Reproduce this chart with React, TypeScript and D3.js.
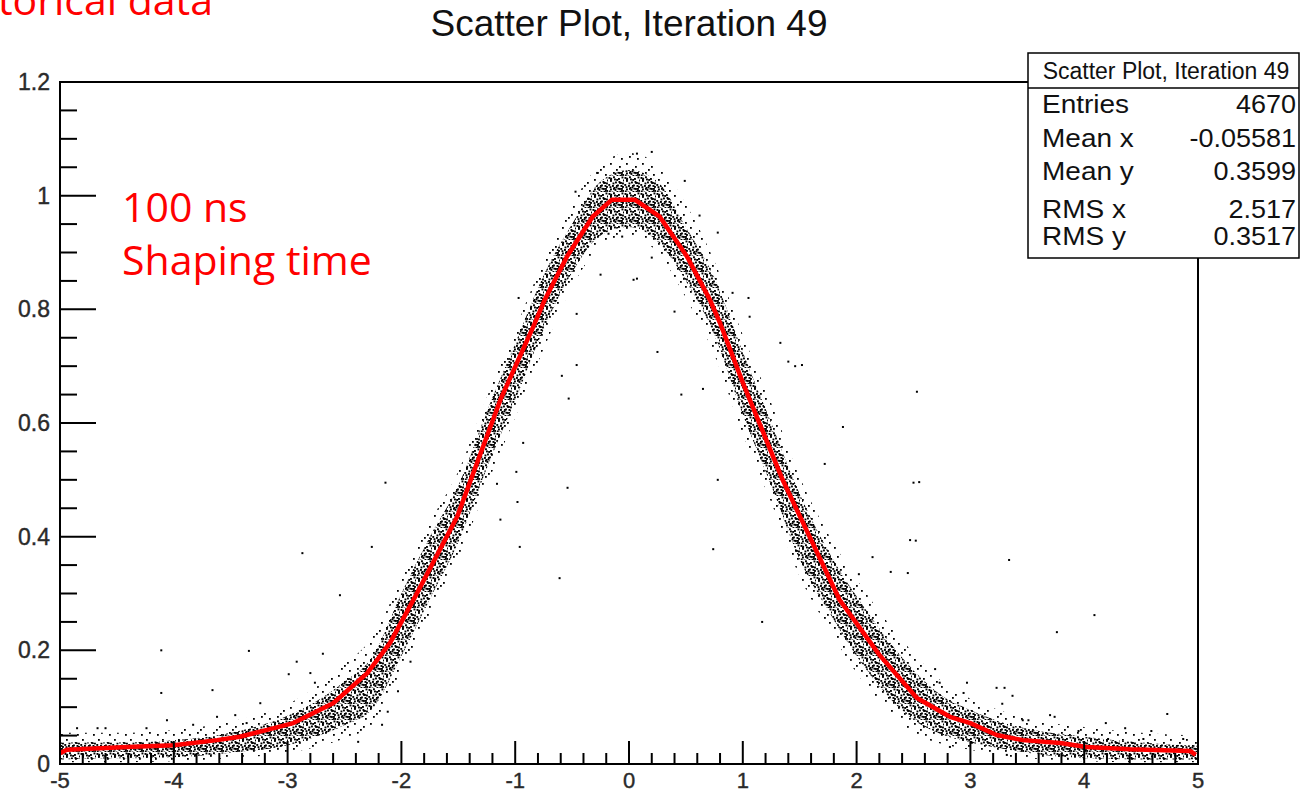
import React from "react";
import * as d3 from "d3";

// ---- fitted curve ----
const curveX = [-5, -4.94, -4.41, -4.0, -3.62, -3.42, -3.18, -2.95, -2.6, -2.3, -2.1, -1.88, -1.51, -1.13, -0.84, -0.74, -0.545, -0.32, -0.15, 0.05, 0.27, 0.51, 0.71, 0.8, 1.0, 1.35, 1.85, 2.2, 2.53, 2.82, 3.0, 3.23, 3.46, 3.79, 4.02, 4.4, 4.93, 4.98];
const curveY = [0.019, 0.025, 0.03, 0.033, 0.042, 0.048, 0.06, 0.072, 0.107, 0.16, 0.213, 0.294, 0.435, 0.641, 0.77, 0.817, 0.893, 0.963, 0.993, 0.993, 0.963, 0.893, 0.817, 0.776, 0.671, 0.5, 0.289, 0.192, 0.116, 0.083, 0.072, 0.051, 0.042, 0.037, 0.03, 0.026, 0.023, 0.016];

// ---- envelope of the dense point cloud ----
const bandX = [-5, -4.5, -4, -3.5, -3, -2.75, -2.5, -2.25, -2, -1.75, -1.5, -1.25, -1, -0.75, -0.5, -0.25, 0, 0.25, 0.5, 0.75, 1, 1.25, 1.5, 1.75, 2, 2.25, 2.5, 2.75, 3, 3.25, 3.5, 4, 4.5, 5];
const coreLo = [0.008, 0.01, 0.012, 0.02, 0.033, 0.048, 0.068, 0.098, 0.19, 0.29, 0.39, 0.52, 0.64, 0.765, 0.865, 0.93, 0.945, 0.92, 0.85, 0.755, 0.615, 0.49, 0.36, 0.27, 0.19, 0.125, 0.078, 0.052, 0.038, 0.028, 0.02, 0.01, 0.008, 0.008];
const coreHi = [0.038, 0.038, 0.042, 0.055, 0.085, 0.11, 0.145, 0.19, 0.3, 0.4, 0.49, 0.62, 0.74, 0.86, 0.95, 1.025, 1.045, 1.025, 0.945, 0.855, 0.725, 0.6, 0.475, 0.375, 0.295, 0.225, 0.165, 0.12, 0.095, 0.075, 0.062, 0.048, 0.038, 0.032];
const haloLo = [0.003, 0.003, 0.005, 0.01, 0.02, 0.03, 0.045, 0.07, 0.16, 0.26, 0.36, 0.49, 0.61, 0.73, 0.84, 0.91, 0.93, 0.9, 0.82, 0.72, 0.58, 0.46, 0.33, 0.24, 0.16, 0.1, 0.055, 0.035, 0.025, 0.015, 0.01, 0.005, 0.003, 0.003];
const haloHi = [0.055, 0.055, 0.06, 0.075, 0.105, 0.135, 0.175, 0.225, 0.325, 0.425, 0.515, 0.645, 0.765, 0.885, 0.985, 1.055, 1.075, 1.055, 0.985, 0.885, 0.755, 0.635, 0.505, 0.405, 0.325, 0.255, 0.195, 0.145, 0.115, 0.095, 0.08, 0.065, 0.055, 0.05];

// ---- isolated points ----
const outlierX = [-2.87, -2.26, -2.14, -0.61, 0.04, -0.25, 0.25, 0.46, 1.17, 1.46, 1.88, 2.53, 2.5, 2.47, 2.3, 3.34, 3.76, 4.09, 4.73, -4.11, -3.66, -2.54, -0.54, -0.53, -0.46, -0.46, -0.59, -0.96, -1.13, -0.98, -0.99, -0.93, -1.16, 1.33, 1.4, 1.52, 1.72, 2.55, 2.52, 0.74, 0.78, 0.65, 2.45, 2.14, 2.02, 0.2, 0.07, -0.28, -0.47, 0.49, 0.62, 0.78, 0.91, 1.05, 1.06, 0.07, 0.2, -0.18, -0.06, -0.97, 0.4, -3.34, -4.11, -4.06, -4.24, -2.92, -2.99, -2.69, -2.8, -2.76, -2.03, -1.92, -2.12, -2.38, -2.17, -3.24, -3.62, -3.83, -4.85, -4.67, -4.6, -3.46, -3.36, 2.69, 2.97, 3.23, 3.3, 3.37, 3.28, 2.94, 2.73, 3.7, 3.74, 4.19, 4.36, 4.59, 4.87, 4.52, 4.21, 2.82, 3.32, 3.95, 3.46, 3.51];
const outlierY = [0.371, 0.382, 0.495, 0.327, 0.852, 0.861, 0.725, 0.65, 0.25, 0.7, 0.593, 0.655, 0.495, 0.394, 0.338, 0.359, 0.232, 0.262, 0.088, 0.2, 0.13, 0.297, 0.486, 0.643, 0.702, 0.792, 0.683, 0.382, 0.43, 0.461, 0.514, 0.565, 0.493, 0.741, 0.708, 0.702, 0.528, 0.496, 0.393, 0.378, 0.5, 0.66, 0.336, 0.364, 0.334, 1.077, 1.074, 1.04, 1.007, 1.026, 0.965, 0.935, 0.829, 0.82, 0.787, 0.854, 0.891, 0.933, 0.928, 0.82, 0.796, 0.199, 0.125, 0.077, 0.063, 0.18, 0.158, 0.194, 0.16, 0.143, 0.128, 0.18, 0.092, 0.039, 0.069, 0.107, 0.083, 0.069, 0.063, 0.063, 0.063, 0.086, 0.072, 0.167, 0.143, 0.134, 0.134, 0.12, 0.106, 0.125, 0.143, 0.086, 0.083, 0.072, 0.063, 0.058, 0.044, 0.044, 0.044, 0.03, 0.016, 0.058, 0.077, 0.077];

// ---- axes / stats ----
const xMajorTicks = [-5, -4, -3, -2, -1, 0, 1, 2, 3, 4, 5];
const yMajorTicks = [0, 0.2, 0.4, 0.6, 0.8, 1, 1.2];
const statLabels = ["Entries", "Mean x", "Mean y", "RMS x", "RMS y"];
const statValues = ["4670", "-0.05581", "0.3599", "2.517", "0.3517"];
const plotTitle = "Scatter Plot, Iteration 49";

// pattern dot positions inside a tile (texture only)
const denseDots = [[0.5, 1], [5, 0.3], [10, 2], [13.5, 0.5], [2, 4], [7, 5.5], [12, 6], [15, 3.5], [0.3, 8], [4, 9], [9, 8.5], [14, 10], [2, 12.5], [6.5, 13], [11, 12], [14.5, 14], [8.5, 15], [3.5, 15.5], [10.5, 5], [6, 2.5], [12.5, 9], [0.8, 14.5], [7.5, 10.5], [4.5, 6.5], [2.2, 1.8], [8.2, 3], [14, 6.5], [11.5, 14.8], [5.5, 11], [1.5, 10.2], [9.5, 11.8], [13, 12]];
const sparseDots = [[2, 3], [11, 6], [5, 12], [13, 14], [8, 9]];

export default function App() {
  const W = 1301, H = 792;
  const x = d3.scaleLinear().domain([-5, 5]).range([60, 1198]);
  const y = d3.scaleLinear().domain([0, 1.2]).range([764, 82]);

  const line = d3.line<number>().x((_, i) => x(curveX[i])).y((_, i) => y(curveY[i]));
  const coreArea = d3.area<number>().x((_, i) => x(bandX[i])).y0((_, i) => y(coreLo[i])).y1((_, i) => y(coreHi[i])).curve(d3.curveMonotoneX);
  const haloArea = d3.area<number>().x((_, i) => x(bandX[i])).y0((_, i) => y(haloLo[i])).y1((_, i) => y(haloHi[i])).curve(d3.curveMonotoneX);

  const xMinor = d3.range(-5, 5.0001, 0.2).filter(v => Math.abs(v - Math.round(v)) > 1e-6);
  const yMinor = d3.range(0, 1.2001, 0.05).filter(v => Math.abs(v * 5 - Math.round(v * 5)) > 1e-6);

  const tickFont = "'Liberation Sans', Arial, sans-serif";
  const redFont = "'Open Sans', sans-serif";
  const statRows = [113, 147, 180, 218, 245];
  const labelColor = "#2a2a2a";

  return (
    <svg width={W} height={H} style={{ position: "absolute", left: 0, top: 0, background: "#fff" }}>
      <defs>
        <pattern id="dense" width={16} height={16} patternUnits="userSpaceOnUse">
          {denseDots.map((d, i) => <rect key={i} x={d[0]} y={d[1]} width={1.9} height={1.9} fill="#000" />)}
        </pattern>
        <pattern id="sparse" width={16} height={16} patternUnits="userSpaceOnUse">
          {sparseDots.map((d, i) => <rect key={i} x={d[0]} y={d[1]} width={1.8} height={1.8} fill="#000" />)}
        </pattern>
        <clipPath id="plotclip"><rect x={60} y={82} width={1138} height={682} /></clipPath>
      </defs>

      <text x={213} y={15} textAnchor="end" fontFamily={redFont} fontSize={41} fill="#ff0000">Historical data</text>

      <text x={629} y={36} textAnchor="middle" fontFamily={tickFont} fontSize={37} fill="#111">{plotTitle}</text>

      <g clipPath="url(#plotclip)">
        <path d={haloArea(bandX) || ""} fill="url(#sparse)" />
        <path d={coreArea(bandX) || ""} fill="url(#dense)" />
        {outlierX.map((v, i) => (
          <rect key={i} x={x(v) - 1} y={y(outlierY[i]) - 1} width={2} height={2} fill="#000" />
        ))}
        <path d={line(curveX) || ""} fill="none" stroke="#ff0000" strokeWidth={4.5} strokeLinejoin="round" />
      </g>

      {/* frame */}
      <rect x={60} y={82} width={1138} height={682} fill="none" stroke="#000" strokeWidth={2} />

      {/* y ticks */}
      {yMajorTicks.map(v => <line key={"ym" + v} x1={60} x2={96} y1={y(v)} y2={y(v)} stroke="#000" strokeWidth={2} />)}
      {yMinor.map(v => <line key={"yn" + v} x1={60} x2={77} y1={y(v)} y2={y(v)} stroke="#000" strokeWidth={2} />)}
      {yMajorTicks.map(v => (
        <text key={"yl" + v} x={50} y={y(v) + 8} textAnchor="end" fontFamily={tickFont} fontSize={23} fill={labelColor} stroke={labelColor} strokeWidth={0.4}>{d3.format("~g")(v)}</text>
      ))}

      {/* x ticks */}
      {xMajorTicks.map(v => <line key={"xm" + v} x1={x(v)} x2={x(v)} y1={764} y2={741} stroke="#000" strokeWidth={2} />)}
      {xMinor.map(v => <line key={"xn" + v} x1={x(v)} x2={x(v)} y1={764} y2={753} stroke="#000" strokeWidth={2} />)}
      {xMajorTicks.map(v => (
        <text key={"xl" + v} x={x(v)} y={788} textAnchor="middle" fontFamily={tickFont} fontSize={22} fill={labelColor} stroke={labelColor} strokeWidth={0.4}>{String(v)}</text>
      ))}

      {/* annotation */}
      <text x={122} y={222} fontFamily={redFont} fontSize={41} fill="#ff0000">100 ns</text>
      <text x={122} y={275} fontFamily={redFont} fontSize={41} fill="#ff0000">Shaping time</text>

      {/* stats box */}
      <rect x={1028} y={53} width={271} height={205} fill="#fff" stroke="#000" strokeWidth={1.5} />
      <line x1={1028} x2={1299} y1={88} y2={88} stroke="#000" strokeWidth={1.5} />
      <text x={1166} y={79} textAnchor="middle" fontFamily={tickFont} fontSize={23} fill="#111">{plotTitle}</text>
      {statLabels.map((s, i) => (
        <text key={s} transform={`translate(1042,${statRows[i]}) scale(1.12,1)`} fontFamily={tickFont} fontSize={25} fill="#111">{s}</text>
      ))}
      {statValues.map((s, i) => (
        <text key={s} transform={`translate(1296,${statRows[i]}) scale(1.08,1)`} textAnchor="end" fontFamily={tickFont} fontSize={25} fill="#111">{s}</text>
      ))}
    </svg>
  );
}
